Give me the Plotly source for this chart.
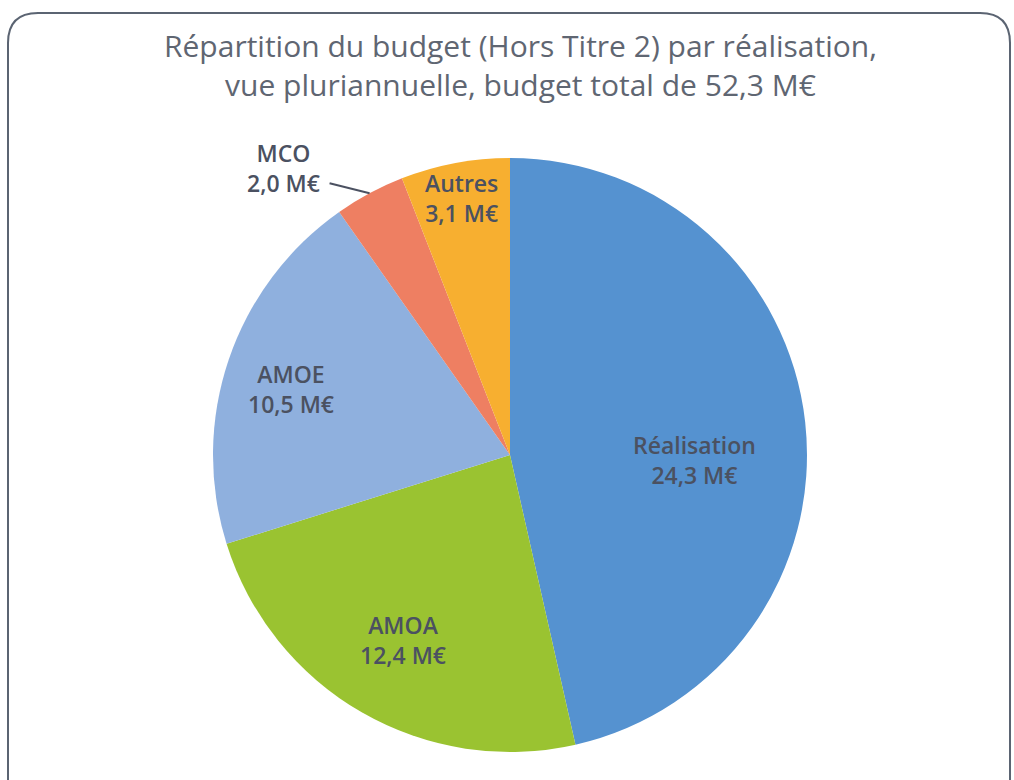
import math
import plotly.graph_objects as go

# ---- data ----
categories = ["Réalisation", "AMOA", "AMOE", "MCO", "Autres"]
values = [24.3, 12.4, 10.5, 2.0, 3.1]
value_labels = ["24,3 M€", "12,4 M€", "10,5 M€", "2,0 M€", "3,1 M€"]
title_text = "Répartition du budget (Hors Titre 2) par réalisation,<br>vue pluriannuelle, budget total de 52,3 M€"

# ---- style ----
colors = ["#5592D0", "#9AC331", "#8FB0DE", "#EE7F62", "#F7AF30"]
W, H = 1014, 780
CX, CY, R = 510, 455, 297  # pie centre / radius in pixels
label_color = "#4B5161"
label_font = "Open Sans"
label_size = 23
# label radial fraction and angle tweak (degrees) per slice; None => outside label
label_place = [(0.62, 8), (0.72, 0), (0.77, -2), None, (0.88, 0)]

fig = go.Figure()
fig.add_trace(go.Pie(
    labels=categories,
    values=values,
    sort=False,
    direction="clockwise",
    rotation=0,
    marker=dict(colors=colors, line=dict(color="white", width=0)),
    textinfo="none",
    hoverinfo="label+value",
    showlegend=False,
    domain=dict(x=[(CX - R) / W, (CX + R) / W], y=[1 - (CY + R) / H, 1 - (CY - R) / H]),
))

total = sum(values)
cum = 0.0
annotations = []
shapes = []
for i, (cat, v, vl) in enumerate(zip(categories, values, value_labels)):
    mid = (cum + v / 2) / total * 360.0
    cum += v
    place = label_place[i]
    if place is not None:
        frac, tweak = place
        a = math.radians(mid + tweak)
        px = CX + math.sin(a) * R * frac
        py = CY - math.cos(a) * R * frac
        annotations.append(dict(
            x=px / W, y=1 - py / H, xref="paper", yref="paper",
            text=f"{cat}<br>{vl}", showarrow=False,
            font=dict(family=label_font, size=label_size, color=label_color, weight=600),
            xanchor="center", yanchor="middle", align="center",
        ))
    else:
        a = math.radians(mid)
        ex = CX + math.sin(a) * R
        ey = CY - math.cos(a) * R
        lx0 = ex - 40
        ly0 = ey - 10
        shapes.append(dict(type="line", xref="paper", yref="paper",
                           x0=ex / W, y0=1 - ey / H, x1=lx0 / W, y1=1 - ly0 / H,
                           line=dict(color=label_color, width=2)))
        annotations.append(dict(
            x=(lx0 - 8) / W, y=1 - (ly0 - 15) / H, xref="paper", yref="paper",
            text=f"{cat}<br>{vl}", showarrow=False,
            font=dict(family=label_font, size=label_size, color=label_color, weight=600),
            xanchor="right", yanchor="middle", align="center",
        ))

# title
annotations.append(dict(
    x=520 / W, y=1 - 65 / H, xref="paper", yref="paper", text=title_text,
    showarrow=False, xanchor="center", yanchor="middle", align="center",
    font=dict(family="Open Sans", size=30, color="#5F6672", weight=400),
))

# rounded border (extends below the bottom edge)
x0, x1, y0, y1, rc = 8, 1010, 13, 820, 30
def px2(x, y):
    return f"{x / W:.5f},{1 - y / H:.5f}"
path = (f"M {px2(x0 + rc, y0)} L {px2(x1 - rc, y0)} Q {px2(x1, y0)} {px2(x1, y0 + rc)} "
        f"L {px2(x1, y1 - rc)} Q {px2(x1, y1)} {px2(x1 - rc, y1)} "
        f"L {px2(x0 + rc, y1)} Q {px2(x0, y1)} {px2(x0, y1 - rc)} "
        f"L {px2(x0, y0 + rc)} Q {px2(x0, y0)} {px2(x0 + rc, y0)} Z")
shapes.append(dict(type="path", xref="paper", yref="paper", path=path,
                   line=dict(color="#5B6472", width=2), fillcolor="rgba(0,0,0,0)"))

fig.update_layout(
    width=W, height=H,
    margin=dict(l=0, r=0, t=0, b=0),
    paper_bgcolor="white", plot_bgcolor="white",
    annotations=annotations, shapes=shapes,
)
fig.write_html("out.html", config={"displayModeBar": False},
               post_script="document.body.style.margin='0';document.body.style.overflow='hidden';")
